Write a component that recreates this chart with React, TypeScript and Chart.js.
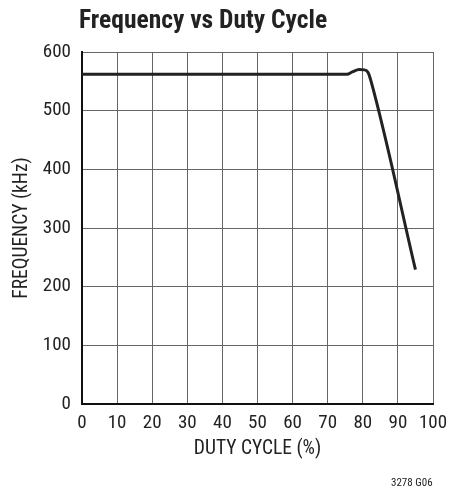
import React, { useEffect, useRef } from "react";
import { Chart, registerables } from "chart.js";
Chart.register(...registerables);

const dutyCycle = [0, 75.5, 77, 79, 80.5, 81.5, 82.4, 95];
const frequency = [562, 562, 566, 570, 569.5, 565, 549, 229];
const xTicks = [0, 10, 20, 30, 40, 50, 60, 70, 80, 90, 100];
const yTicks = [0, 100, 200, 300, 400, 500, 600];

const titleText = "Frequency vs Duty Cycle";
const xTitle = "DUTY CYCLE (%)";
const yTitle = "FREQUENCY (kHz)";
const noteText = "3278 G06";

const FONT = "'Roboto Condensed', 'Liberation Sans Narrow', 'Arial Narrow', sans-serif";

export default function App() {
  const ref = useRef<HTMLCanvasElement>(null);
  useEffect(() => {
    const textPlugin = {
      id: "texts",
      afterDraw(chart: any) {
        const ctx = chart.ctx;
        ctx.save();
        ctx.fillStyle = "#222";
        ctx.textBaseline = "alphabetic";
        ctx.textAlign = "left";
        ctx.font = `bold 25.5px ${FONT}`;
        ctx.fillText(titleText, 79, 28);
        ctx.font = `11px ${FONT}`;
        ctx.fillText(noteText, 391, 486);
        ctx.restore();
      },
    };
    const chart = new Chart(ref.current!, {
      type: "line",
      data: {
        datasets: [
          {
            data: dutyCycle.map((x, i) => ({ x, y: frequency[i] })),
            borderColor: "#222",
            borderWidth: 3,
            pointRadius: 0,
            cubicInterpolationMode: "monotone",
            fill: false,
          },
        ],
      },
      options: {
        animation: false,
        responsive: false,
        devicePixelRatio: 1,
        layout: { padding: { left: 10, right: 33, top: 52, bottom: 30 } },
        plugins: { legend: { display: false }, tooltip: { enabled: false }, title: { display: false } },
        scales: {
          x: {
            type: "linear",
            min: 0,
            max: 100,
            afterBuildTicks: (s: any) => { s.ticks = xTicks.map((v) => ({ value: v })); },
            afterFit: (s: any) => { s.height = 59; },
            grid: { color: "#666", lineWidth: 1, drawTicks: false },
            border: { color: "#111", width: 2 },
            ticks: { color: "#222", font: { family: FONT, size: 19 }, padding: 8, maxRotation: 0, autoSkip: false },
            title: { display: true, text: xTitle, color: "#222", font: { family: FONT, size: 19.5 }, padding: { top: 0, bottom: 2 } },
          },
          y: {
            type: "linear",
            min: 0,
            max: 600,
            afterBuildTicks: (s: any) => { s.ticks = yTicks.map((v) => ({ value: v })); },
            afterFit: (s: any) => { s.width = 72; },
            grid: { color: "#666", lineWidth: 1, drawTicks: false },
            border: { color: "#111", width: 2 },
            ticks: { color: "#222", font: { family: FONT, size: 19 }, padding: 11 },
            title: { display: true, text: yTitle, color: "#222", font: { family: FONT, size: 19.5 }, padding: { top: 0, bottom: 0 } },
          },
        },
      },
      plugins: [textPlugin],
    } as any);
    return () => chart.destroy();
  }, []);
  return (
    <div style={{ position: "fixed", left: 0, top: 0, width: 466, height: 493, background: "#fff" }}>
      <canvas ref={ref} width={466} height={493} style={{ width: 466, height: 493 }} />
    </div>
  );
}
